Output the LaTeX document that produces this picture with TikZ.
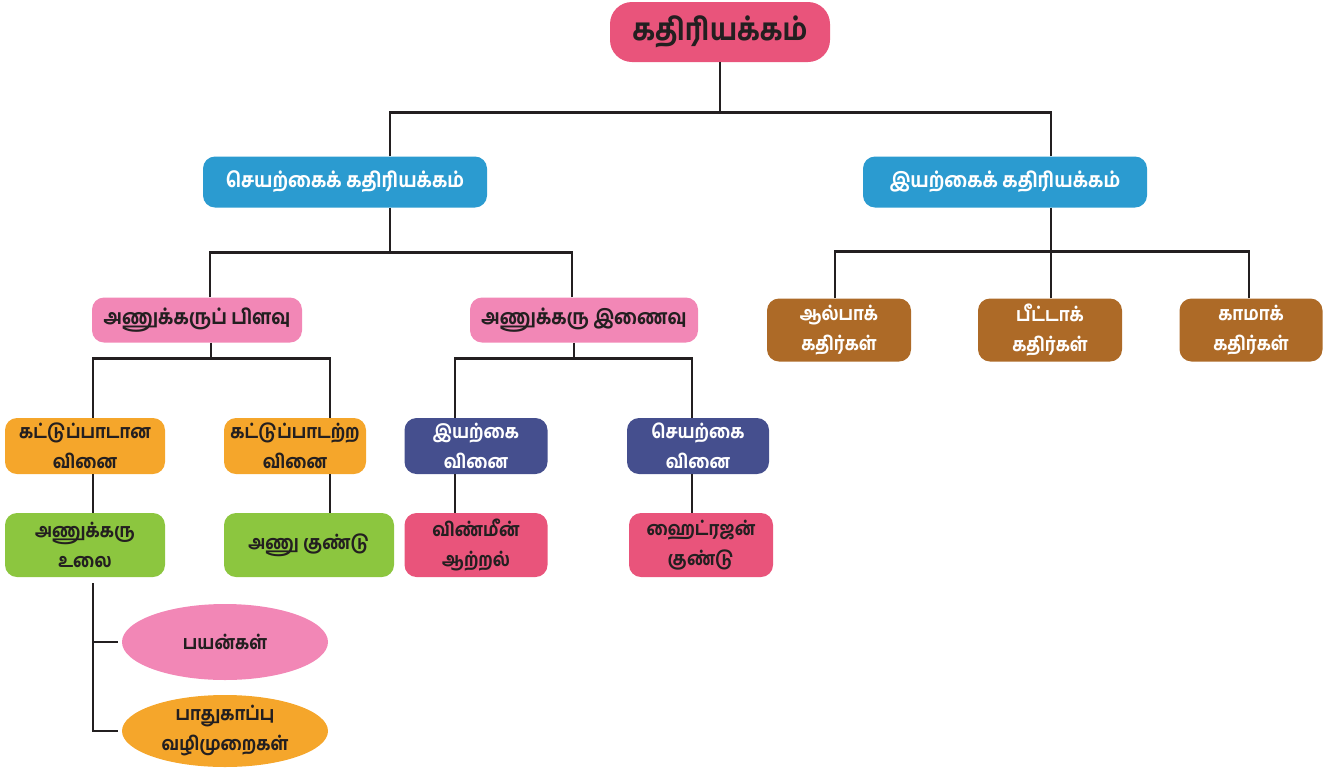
\documentclass[tikz,border=0pt]{standalone}
\usepackage{fontspec}
\setmainfont[Script=Tamil, BoldFont={Hind Madurai Bold}, FakeStretch=0.88]{Hind Madurai}
\usetikzlibrary{shapes.geometric}
\definecolor{cred}{HTML}{E9547B}
\definecolor{cblue}{HTML}{2B9BD0}
\definecolor{cpink}{HTML}{F287B6}
\definecolor{cbrown}{HTML}{AD6A27}
\definecolor{corange}{HTML}{F5A62B}
\definecolor{cpurple}{HTML}{454F8E}
\definecolor{cgreen}{HTML}{8CC63F}
\definecolor{cink}{HTML}{231F20}
\tikzset{
  box/.style={rectangle, rounded corners=12pt, inner sep=0pt, align=center,
    font=\fontsize{19}{30}\selectfont\bfseries, text=cink},
  wbox/.style={box, text=white},
  conn/.style={draw=cink, line width=2.8pt},
  oval/.style={ellipse, inner sep=0pt, align=center,
    font=\fontsize{19}{30}\selectfont\bfseries, text=cink},
  big/.style={font=\fontsize{20.5}{30}\selectfont\bfseries}
}
\begin{document}
\begin{tikzpicture}[x=1pt,y=1pt]
\useasboundingbox (0,0) rectangle (1331,-769);
% nodes
\node[box, fill=cred, minimum width=220, minimum height=60, rounded corners=22pt,
  font=\fontsize{30.5}{32}\selectfont\bfseries] (top) at (720,-32) {கதிரியக்கம்};
\node[wbox, big, fill=cblue, minimum width=284, minimum height=51] (sl) at (345,-182) {செயற்கைக் கதிரியக்கம்};
\node[wbox, big, fill=cblue, minimum width=284, minimum height=51] (il) at (1005,-182) {இயற்கைக் கதிரியக்கம்};
\node[box, big, fill=cpink, minimum width=210, minimum height=45] (pl) at (197,-320) {அணுக்கருப் பிளவு};
\node[box, big, fill=cpink, minimum width=228, minimum height=45] (pr) at (584,-320) {அணுக்கரு இணைவு};
\node[wbox, fill=cbrown, minimum width=144, minimum height=63] (b1) at (839,-330) {ஆல்பாக்\\கதிர்கள்};
\node[wbox, fill=cbrown, minimum width=144, minimum height=63] (b2) at (1050,-330) {பீட்டாக்\\கதிர்கள்};
\node[wbox, fill=cbrown, minimum width=143, minimum height=63] (b3) at (1251,-330) {காமாக்\\கதிர்கள்};
\node[box, fill=corange, minimum width=160, minimum height=56] (o1) at (85,-446) {கட்டுப்பாடான\\வினை};
\node[box, fill=corange, minimum width=142, minimum height=56] (o2) at (295,-446) {கட்டுப்பாடற்ற\\வினை};
\node[wbox, fill=cpurple, minimum width=143, minimum height=56] (v1) at (476,-446) {இயற்கை\\வினை};
\node[wbox, fill=cpurple, minimum width=142, minimum height=56] (v2) at (698,-446) {செயற்கை\\வினை};
\node[box, fill=cgreen, minimum width=160, minimum height=64] (g1) at (85,-545) {அணுக்கரு\\உலை};
\node[box, fill=cgreen, minimum width=170, minimum height=64] (g2) at (309,-545) {அணு குண்டு};
\node[box, fill=cred, minimum width=143, minimum height=64] (r1) at (476,-545) {விண்மீன்\\ஆற்றல்};
\node[box, fill=cred, minimum width=144, minimum height=64] (r2) at (701,-545) {ஹைட்ரஜன்\\குண்டு};
\node[oval, fill=cpink, minimum width=206, minimum height=76] (e1) at (225,-642) {பயன்கள்};
\node[oval, fill=corange, minimum width=206, minimum height=72] (e2) at (225,-731) {பாதுகாப்பு\\வழிமுறைகள்};
% connectors
\draw[conn] (top.south) -- ++(0,-50) coordinate (j1);
\draw[conn] ([xshift=45pt]sl.north) |- (j1);
\draw[conn] ([xshift=46pt]il.north) |- (j1);
% level 2 left
\draw[conn] ([xshift=45pt]sl.south) -- ++(0,-45) coordinate (j2);
\draw[conn] ([xshift=13pt]pl.north) |- (j2);
\draw[conn] ([xshift=-12pt]pr.north) |- (j2);
% level 2 right
\draw[conn] ([xshift=46pt]il.south) -- ++(0,-44) coordinate (j3);
\draw[conn] ([xshift=-4pt]b1.north) |- (j3);
\draw[conn] ([xshift=1pt]b2.north) |- (j3);
\draw[conn] ([xshift=-2pt]b3.north) |- (j3);
% level 3 left
\draw[conn] ([xshift=14pt]pl.south) -- ++(0,-16) coordinate (j4);
\draw[conn] ([xshift=8pt]o1.north) |- (j4);
\draw[conn] ([xshift=35pt]o2.north) |- (j4);
% level 3 right
\draw[conn] ([xshift=-10pt]pr.south) -- ++(0,-16) coordinate (j5);
\draw[conn] ([xshift=-21pt]v1.north) |- (j5);
\draw[conn] ([xshift=-6pt]v2.north) |- (j5);
% level 4
\draw[conn] ([xshift=8pt]o1.south) -- ([xshift=8pt]g1.north);
\draw[conn] ([xshift=35pt]o2.south) -- ([xshift=21pt]g2.north);
\draw[conn] ([xshift=-21pt]v1.south) -- ([xshift=-21pt]r1.north);
\draw[conn] ([xshift=-6pt]v2.south) -- ([xshift=-9pt]r2.north);
% ellipses
\draw[conn] ([xshift=-4pt]e2.west) -| ([xshift=8pt,yshift=-6pt]g1.south);
\draw[conn] ([xshift=-4pt]e1.west) -| ([xshift=8pt,yshift=-6pt]g1.south);
\end{tikzpicture}
\end{document}
